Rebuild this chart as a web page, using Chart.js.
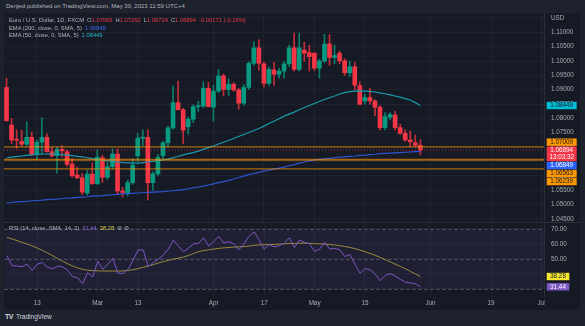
<!DOCTYPE html>
<html>
<head>
<meta charset="utf-8">
<script src="https://cdn.jsdelivr.net/npm/chart.js@4.4.0/dist/chart.umd.min.js"></script>
<style>
  html, body { margin: 0; padding: 0; background: #1e222d; }
  #wrap { position: relative; width: 585px; height: 326px; background: #1e222d; overflow: hidden; font-family: 'Liberation Sans', Arial, sans-serif; }
  #head { position: absolute; left: 6px; top: 3px; font-size: 6px; color: #b2b5be; white-space: nowrap; }
  #panel { position: absolute; left: 4px; top: 13px; width: 576px; height: 297px; background: #161a25; }
  #price-box { position: absolute; left: 0; top: 0; width: 576px; height: 209px; }
  #rsi-box { position: absolute; left: 0; top: 209px; width: 576px; height: 88px; }
  .legend { position: absolute; left: 9px; font-size: 5.8px; color: #b2b5be; white-space: nowrap; }
  .legend span { margin-left: 3px; }
  #foot { position: absolute; left: 5px; top: 313px; font-size: 6.5px; color: #d1d4dc; white-space: nowrap; }
  #foot b { font-size: 7px; letter-spacing: -0.5px; margin-right: 3px; }
</style>
</head>
<body>
<div id="wrap">
  <div id="head">Denjed published on TradingView.com, May 30, 2023 11:59 UTC+4</div>
  <div id="panel">
    <div id="price-box"><canvas id="price-chart" width="576" height="209"></canvas></div>
    <div id="rsi-box"><canvas id="rsi-chart" width="576" height="88"></canvas></div>
  </div>
  <div class="legend" style="top:17px">Euro / U.S. Dollar, 1D, FXCM<span>O<i id="lg-o"></i></span><span>H<i id="lg-h"></i></span><span>L<i id="lg-l"></i></span><span>C<i id="lg-c"></i></span><span id="lg-chg"></span></div>
  <div class="legend" style="top:24.5px">EMA (200, close, 0, SMA, 5)<span id="lg-ema200" style="color:#3d67f0"></span></div>
  <div class="legend" style="top:32px">EMA (50, close, 0, SMA, 5)<span id="lg-ema50" style="color:#22b3c6"></span></div>
  <div class="legend" style="top:225px">RSI (14, close, SMA, 14, 2)<span id="lg-rsi" style="color:#8b66d6"></span><span id="lg-sma" style="color:#d8c840"></span><span>⊘ ⊘</span></div>
  <div id="foot"><b>TV</b>TradingView</div>
</div>
<script>
// Data (daily candles Feb 3 - May 30, 2023)
const opens = [1.0908, 1.0777, 1.0727, 1.0720, 1.0710, 1.0734, 1.0676, 1.0717, 1.0734, 1.0684,
  1.0670, 1.0692, 1.0684, 1.0641, 1.0603, 1.0593, 1.0540, 1.0606, 1.0572, 1.0663,
  1.0595, 1.0632, 1.0676, 1.0547, 1.0541, 1.0576, 1.0670, 1.0731, 1.0734, 1.0576,
  1.0607, 1.0670, 1.0715, 1.0767, 1.0855, 1.0830, 1.0771, 1.0797, 1.0841, 1.0843,
  1.0905, 1.0839, 1.0895, 1.0948, 1.0901, 1.0919, 1.0899, 1.0853, 1.0908, 1.0992,
  1.1046, 1.0990, 1.0922, 1.0969, 1.0954, 1.0965, 1.0990, 1.1046, 1.0971, 1.1038,
  1.1029, 1.1027, 1.0975, 1.1000, 1.1059, 1.1012, 1.1027, 1.1001, 1.0959, 1.0980,
  1.0914, 1.0861, 1.0873, 1.0861, 1.0839, 1.0768, 1.0804, 1.0812, 1.0768, 1.0748,
  1.0725, 1.0715, 1.07065];
const highs = [1.0940, 1.0800, 1.0760, 1.0759, 1.0789, 1.0752, 1.0725, 1.0802, 1.0746, 1.0700,
  1.0699, 1.0705, 1.0690, 1.0660, 1.0630, 1.0608, 1.0620, 1.0644, 1.0691, 1.0672,
  1.0646, 1.0694, 1.0694, 1.0560, 1.0585, 1.0660, 1.0748, 1.0760, 1.0760, 1.0615,
  1.0675, 1.0720, 1.0772, 1.0913, 1.0930, 1.0835, 1.0805, 1.0848, 1.0860, 1.0928,
  1.0926, 1.0915, 1.0971, 1.0955, 1.0938, 1.0925, 1.0905, 1.0918, 1.0998, 1.1067,
  1.1075, 1.0996, 1.0980, 1.0995, 1.0975, 1.0998, 1.1055, 1.1097, 1.1097, 1.1065,
  1.1055, 1.1030, 1.1005, 1.1093, 1.1092, 1.1055, 1.1035, 1.1008, 1.1000, 1.0995,
  1.0928, 1.0885, 1.0905, 1.0865, 1.0845, 1.0820, 1.0820, 1.0825, 1.0780, 1.0760,
  1.0757, 1.0742, 1.07262];
const lows = [1.0790, 1.0712, 1.0696, 1.0704, 1.0705, 1.0670, 1.0658, 1.0676, 1.0682, 1.0665,
  1.0609, 1.0666, 1.0633, 1.0595, 1.0590, 1.0535, 1.0533, 1.0570, 1.0570, 1.0577,
  1.0588, 1.0623, 1.0537, 1.0525, 1.0530, 1.0570, 1.0650, 1.0705, 1.0516, 1.0550,
  1.0600, 1.0660, 1.0700, 1.0762, 1.0830, 1.0713, 1.0745, 1.0785, 1.0825, 1.0838,
  1.0840, 1.0790, 1.0890, 1.0878, 1.0880, 1.0895, 1.0832, 1.0845, 1.0900, 1.0985,
  1.0968, 1.0910, 1.0915, 1.0915, 1.0940, 1.0940, 1.0980, 1.0965, 1.0965, 1.1000,
  1.0965, 1.0967, 1.0940, 1.0995, 1.0985, 1.0990, 1.0990, 1.0950, 1.0945, 1.0900,
  1.0847, 1.0850, 1.0850, 1.0809, 1.0760, 1.0760, 1.0795, 1.0760, 1.0745, 1.0720,
  1.0701, 1.0702, 1.06724];
const closes = [1.0792, 1.0725, 1.0724, 1.0710, 1.0734, 1.0675, 1.0717, 1.0734, 1.0684, 1.0670,
  1.0692, 1.0687, 1.0640, 1.0600, 1.0593, 1.0543, 1.0606, 1.0573, 1.0665, 1.0595,
  1.0632, 1.0676, 1.0547, 1.0542, 1.0576, 1.0637, 1.0731, 1.0734, 1.0576, 1.0607,
  1.0665, 1.0715, 1.0767, 1.0855, 1.0830, 1.0759, 1.0797, 1.0841, 1.0844, 1.0905,
  1.0841, 1.0895, 1.0948, 1.0901, 1.0919, 1.0899, 1.0853, 1.0908, 1.0992, 1.1046,
  1.0992, 1.0922, 1.0971, 1.0954, 1.0965, 1.0990, 1.1046, 1.0971, 1.1046, 1.1027,
  1.1015, 1.0975, 1.1000, 1.1059, 1.1012, 1.1019, 1.1001, 1.0959, 1.0980, 1.0916,
  1.0849, 1.0873, 1.0861, 1.0839, 1.0768, 1.0806, 1.0814, 1.0768, 1.0748, 1.0725,
  1.0719, 1.07065, 1.06894];
const ema50 = [1.0662, 1.0665, 1.0667, 1.0669, 1.0671, 1.0673, 1.0675, 1.0676, 1.0676, 1.0676,
  1.0675, 1.0674, 1.0672, 1.0670, 1.0668, 1.0666, 1.0663, 1.0660, 1.0657, 1.0654,
  1.0652, 1.0650, 1.0648, 1.0646, 1.0645, 1.0644, 1.0644, 1.0646, 1.0648, 1.0650,
  1.0653, 1.0655, 1.0658, 1.0663, 1.0668, 1.0673, 1.0677, 1.0681, 1.0686, 1.0692,
  1.0698, 1.0704, 1.0711, 1.0717, 1.0723, 1.0730, 1.0737, 1.0744, 1.0751, 1.0758,
  1.0765, 1.0773, 1.0782, 1.0790, 1.0799, 1.0808, 1.0815, 1.0822, 1.0830, 1.0838,
  1.0845, 1.0852, 1.0859, 1.0866, 1.0872, 1.0878, 1.0885, 1.0890, 1.0893, 1.0895,
  1.0896, 1.0895, 1.0894, 1.0892, 1.0889, 1.0886, 1.0882, 1.0878, 1.0874, 1.0869,
  1.0864, 1.0855, 1.08449];
const ema200 = [1.0506, 1.0507, 1.0509, 1.0510, 1.0511, 1.0513, 1.0514, 1.0515, 1.0517, 1.0518,
  1.0519, 1.0521, 1.0522, 1.0523, 1.0525, 1.0526, 1.0527, 1.0529, 1.0530, 1.0531,
  1.0533, 1.0534, 1.0535, 1.0537, 1.0538, 1.0539, 1.0540, 1.0541, 1.0542, 1.0543,
  1.0544, 1.0545, 1.0547, 1.0548, 1.0550, 1.0552, 1.0555, 1.0558, 1.0561, 1.0564,
  1.0568, 1.0572, 1.0576, 1.0580, 1.0584, 1.0589, 1.0594, 1.0599, 1.0604, 1.0608,
  1.0612, 1.0616, 1.0620, 1.0623, 1.0627, 1.0630, 1.0635, 1.0639, 1.0644, 1.0648,
  1.0652, 1.0655, 1.0657, 1.0659, 1.0661, 1.0663, 1.0665, 1.0666, 1.0668, 1.0669,
  1.0671, 1.0672, 1.0674, 1.0675, 1.0677, 1.0678, 1.0679, 1.0680, 1.0681, 1.0682,
  1.0683, 1.0684, 1.06849];
const rsi = [52, 45.5, 45.3, 44.8, 46.5, 42.2, 46.5, 47.5, 44.5, 43.3,
  45.2, 44.8, 42.5, 38.2, 37.5, 33.5, 40.8, 38.0, 48.5, 43.1,
  46.5, 50.3, 40.5, 40.3, 43.0, 49.0, 56.0, 56.0, 44.9, 47.5,
  49.8, 52.5, 56.5, 62.5, 58.5, 54.8, 57.2, 60.0, 60.3, 64.0,
  58.5, 61.5, 65.0, 60.5, 61.5, 60.0, 56.0, 60.0, 65.0, 68.0,
  62.5, 56.5, 59.5, 58.0, 58.8, 60.5, 64.0, 57.5, 62.5, 61.0,
  60.0, 55.0, 56.5, 61.0, 56.5, 57.0, 56.0, 51.5, 53.0, 46.5,
  40.5, 43.5, 42.8, 40.0, 35.5, 39.0, 40.2, 38.5, 36.5, 34.5,
  34.0, 33.5, 31.44];
const rsiSma = [64.3, 63.2, 62.1, 61.0, 59.9, 58.6, 57.2, 55.6, 54.0, 52.2,
  50.3, 48.5, 46.8, 45.3, 44.0, 43.0, 42.5, 42.2, 42.0, 42.0,
  41.9, 41.9, 41.9, 42.0, 42.3, 42.8, 43.5, 44.4, 45.3, 46.2,
  47.2, 48.2, 49.0, 49.8, 50.5, 51.2, 52.3, 53.5, 54.8, 55.5,
  56.0, 56.5, 57.0, 57.3, 57.6, 57.8, 58.0, 58.2, 58.5, 59.0,
  59.3, 59.4, 59.5, 59.6, 59.8, 60.0, 60.2, 60.3, 60.4, 60.4,
  60.3, 60.1, 60.0, 59.8, 59.5, 59.2, 58.8, 58.2, 57.6, 56.8,
  55.8, 54.8, 53.6, 52.4, 51.0, 49.5, 48.0, 46.5, 45.0, 43.4,
  41.7, 40.0, 38.28];
const levels = [1.07009, 1.06563, 1.06239];
const levelWidths = [1.4, 2, 1.2];
const timeTicks = {
  '2023-02-13': '13', '2023-03-01': 'Mar', '2023-03-13': '13', '2023-04-03': 'Apr', '2023-04-17': '17',
  '2023-05-01': 'May', '2023-05-15': '15', '2023-06-01': 'Jun', '2023-06-19': '19', '2023-07-03': 'Jul'
};

// trading days (weekdays) shown on the time axis
const days = [];
for (let d = new Date(Date.UTC(2023, 1, 3)); d <= new Date(Date.UTC(2023, 6, 3)); d.setUTCDate(d.getUTCDate() + 1)) {
  const wd = d.getUTCDay();
  if (wd !== 0 && wd !== 6) days.push(d.toISOString().slice(0, 10));
}

const upColor = '#089981';
const downColor = '#f23645';
const bgColor = '#161a25';
const gridColor = '#1f2330';
const axisText = '#a9acb5';
const axisFont = { family: "'Liberation Sans', Arial, sans-serif", size: 6.3 };

const bodies = opens.map((o, i) => [Math.min(o, closes[i]), Math.max(o, closes[i])]);
const wicks = lows.map((l, i) => [l, highs[i]]);
const candleColors = opens.map((o, i) => closes[i] >= o ? upColor : downColor);
const wickColors = opens.map((o, i) => closes[i] >= o ? '#0b7d6b' : '#c42e3c');

const last = closes.length - 1;
const chg = closes[last] - closes[last - 1];
document.getElementById('lg-o').textContent = opens[last].toFixed(5);
document.getElementById('lg-h').textContent = highs[last].toFixed(5);
document.getElementById('lg-l').textContent = lows[last].toFixed(5);
document.getElementById('lg-c').textContent = closes[last].toFixed(5);
document.getElementById('lg-chg').textContent = chg.toFixed(5) + ' (' + (chg / closes[last - 1] * 100).toFixed(2) + '%)';
document.querySelectorAll('.legend i').forEach(el => { el.style.color = '#f23645'; el.style.fontStyle = 'normal'; });
document.getElementById('lg-chg').style.color = '#f23645';
document.getElementById('lg-ema200').textContent = ema200[last].toFixed(5);
document.getElementById('lg-ema50').textContent = ema50[last].toFixed(5);
document.getElementById('lg-rsi').textContent = rsi[last].toFixed(2);
document.getElementById('lg-sma').textContent = rsiSma[last].toFixed(2);

const vGrid = ctx => timeTicks[days[ctx.index]] ? gridColor : 'rgba(0,0,0,0)';

// keep the right axis 36px wide and stop it from shrinking the plot for its labels
const fitRightAxis = s => {
  s.width = 36;
  s.paddingTop = 0;
  s.paddingBottom = 0;
};

function drawTag(ctx, x, top, w, lines, bg, fg) {
  const h = 7.4 * lines.length;
  ctx.fillStyle = bg;
  ctx.fillRect(x, top, w, h);
  ctx.fillStyle = fg;
  ctx.font = '6.3px "Liberation Sans", Arial, sans-serif';
  ctx.textAlign = 'center';
  ctx.textBaseline = 'middle';
  lines.forEach((t, k) => ctx.fillText(t, x + w / 2, top + 3.9 + k * 7.4));
}

// Price pane
const pricePlugin = {
  id: 'pricePlugin',
  afterDatasetsDraw(chart) {
    const { ctx, chartArea, scales: { y } } = chart;
    ctx.save();
    ctx.beginPath();
    ctx.rect(chartArea.left, chartArea.top, chartArea.right - chartArea.left, chartArea.bottom - chartArea.top);
    ctx.clip();
    levels.forEach((v, k) => {
      const py = y.getPixelForValue(v);
      ctx.strokeStyle = 'rgba(255,152,0,0.62)';
      ctx.lineWidth = levelWidths[k];
      ctx.beginPath();
      ctx.moveTo(chartArea.left, py);
      ctx.lineTo(chartArea.right, py);
      ctx.stroke();
    });
    const cy = y.getPixelForValue(closes[last]);
    ctx.strokeStyle = 'rgba(242,54,69,0.7)';
    ctx.lineWidth = 1;
    ctx.setLineDash([1, 2]);
    ctx.beginPath();
    ctx.moveTo(chartArea.left, cy);
    ctx.lineTo(chartArea.right, cy);
    ctx.stroke();
    ctx.restore();
  },
  afterDraw(chart) {
    const { ctx, chartArea, scales: { y } } = chart;
    const x = chartArea.right + 2.7;
    const tags = [
      { v: ema50[last], lines: [ema50[last].toFixed(5)], bg: '#00bcd4', fg: '#131722' },
      { v: levels[0], lines: [levels[0].toFixed(5)], bg: '#ff9800', fg: '#131722' },
      { v: closes[last], lines: [closes[last].toFixed(5), '13:03:32'], bg: '#f23645', fg: '#ffffff', main: true },
      { v: ema200[last], lines: [ema200[last].toFixed(5)], bg: '#2962ff', fg: '#ffffff' },
      { v: levels[1], lines: [levels[1].toFixed(5)], bg: '#ff9800', fg: '#131722' },
      { v: levels[2], lines: [levels[2].toFixed(5)], bg: '#ff9800', fg: '#131722' }
    ];
    tags.forEach(t => { t.top = y.getPixelForValue(t.v) - 3.7; t.h = 7.4 * t.lines.length; });
    tags.sort((a, b) => a.top - b.top);
    const m = tags.findIndex(t => t.main);
    for (let k = m + 1; k < tags.length; k++) {
      tags[k].top = Math.max(tags[k].top, tags[k - 1].top + tags[k - 1].h + 0.6);
    }
    for (let k = m - 1; k >= 0; k--) {
      tags[k].top = Math.min(tags[k].top, tags[k + 1].top - tags[k].h - 0.6);
    }
    ctx.save();
    tags.forEach(t => drawTag(ctx, x, t.top, 30, t.lines, t.bg, t.fg));
    ctx.restore();
  }
};

const priceChart = new Chart(document.getElementById('price-chart'), {
  type: 'bar',
  data: {
    labels: days,
    datasets: [
      { type: 'line', label: 'EMA 50', data: ema50, borderColor: '#1b9aab', borderWidth: 1.2, pointRadius: 0, order: 0 },
      { type: 'line', label: 'EMA 200', data: ema200, borderColor: '#2d55d0', borderWidth: 1.2, pointRadius: 0, order: 0 },
      { label: 'Body', data: bodies, backgroundColor: candleColors, barThickness: 4, minBarLength: 1, grouped: false, order: 1 },
      { label: 'Wick', data: wicks, backgroundColor: wickColors, barThickness: 1, grouped: false, order: 2 }
    ]
  },
  options: {
    responsive: false,
    animation: false,
    layout: { padding: 0 },
    plugins: { legend: { display: false }, tooltip: { enabled: false } },
    scales: {
      x: {
        offset: true,
        grid: { color: vGrid, offset: false, drawTicks: false },
        border: { display: false },
        ticks: { display: false, autoSkip: false },
        afterFit: s => { s.height = 0; }
      },
      y: {
        position: 'right',
        min: 1.043903,
        max: 1.116725,
        grid: { color: gridColor, drawTicks: false },
        border: { color: '#2a2e39' },
        ticks: {
          stepSize: 0.005,
          includeBounds: false,
          padding: 7,
          color: axisText,
          font: axisFont,
          callback: v => v > 1.1125 ? 'USD' : v.toFixed(5)
        },
        afterFit: fitRightAxis
      }
    }
  },
  plugins: [pricePlugin]
});

// RSI pane
const rsiPlugin = {
  id: 'rsiPlugin',
  beforeDatasetsDraw(chart) {
    const { ctx, chartArea, scales: { y } } = chart;
    ctx.save();
    ctx.fillStyle = 'rgba(126,87,194,0.1)';
    ctx.fillRect(chartArea.left, y.getPixelForValue(70), chartArea.right - chartArea.left, y.getPixelForValue(30) - y.getPixelForValue(70));
    ctx.strokeStyle = '#555a66';
    ctx.lineWidth = 1;
    ctx.setLineDash([3, 3]);
    [70, 50, 30].forEach(v => {
      const py = Math.round(y.getPixelForValue(v)) + 0.5;
      ctx.beginPath();
      ctx.moveTo(chartArea.left, py);
      ctx.lineTo(chartArea.right, py);
      ctx.stroke();
    });
    ctx.restore();
  },
  afterDraw(chart) {
    const { ctx, chartArea, scales: { y }, width, height } = chart;
    ctx.save();
    ctx.fillStyle = bgColor;
    ctx.fillRect(chartArea.right + 0.5, chartArea.bottom, width - chartArea.right, height - chartArea.bottom);
    ctx.strokeStyle = '#2a2e39';
    ctx.lineWidth = 1;
    ctx.beginPath();
    ctx.moveTo(0, 0.5);
    ctx.lineTo(width, 0.5);
    ctx.stroke();
    const x = chartArea.right + 2.7;
    drawTag(ctx, x, y.getPixelForValue(rsiSma[last]) - 3.7, 22.6, [rsiSma[last].toFixed(2)], '#f5e62f', '#131722');
    drawTag(ctx, x, y.getPixelForValue(rsi[last]) - 3.7, 22.6, [rsi[last].toFixed(2)], '#7e57c2', '#ffffff');
    ctx.restore();
  }
};

const rsiChart = new Chart(document.getElementById('rsi-chart'), {
  type: 'line',
  data: {
    labels: days,
    datasets: [
      { label: 'RSI', data: rsi, borderColor: '#7e57c2', borderWidth: 1, pointRadius: 0 },
      { label: 'RSI SMA', data: rsiSma, borderColor: '#9a8b3a', borderWidth: 1, pointRadius: 0 }
    ]
  },
  options: {
    responsive: false,
    animation: false,
    layout: { padding: 0 },
    plugins: { legend: { display: false }, tooltip: { enabled: false } },
    scales: {
      x: {
        offset: true,
        grid: { color: vGrid, offset: false, drawTicks: false },
        border: { display: false },
        ticks: {
          autoSkip: false,
          maxRotation: 0,
          minRotation: 0,
          padding: 3,
          color: axisText,
          font: axisFont,
          callback: (v, i) => timeTicks[days[i]] || ''
        },
        afterFit: s => { s.height = 13.5; }
      },
      y: {
        position: 'right',
        min: 25,
        max: 74.5,
        grid: { color: gridColor, drawTicks: false },
        border: { color: '#2a2e39' },
        ticks: {
          stepSize: 10,
          includeBounds: false,
          padding: 7,
          color: axisText,
          font: axisFont,
          callback: v => v >= 50 ? v.toFixed(2) : ''
        },
        afterFit: fitRightAxis
      }
    }
  },
  plugins: [rsiPlugin]
});
</script>
</body>
</html>
